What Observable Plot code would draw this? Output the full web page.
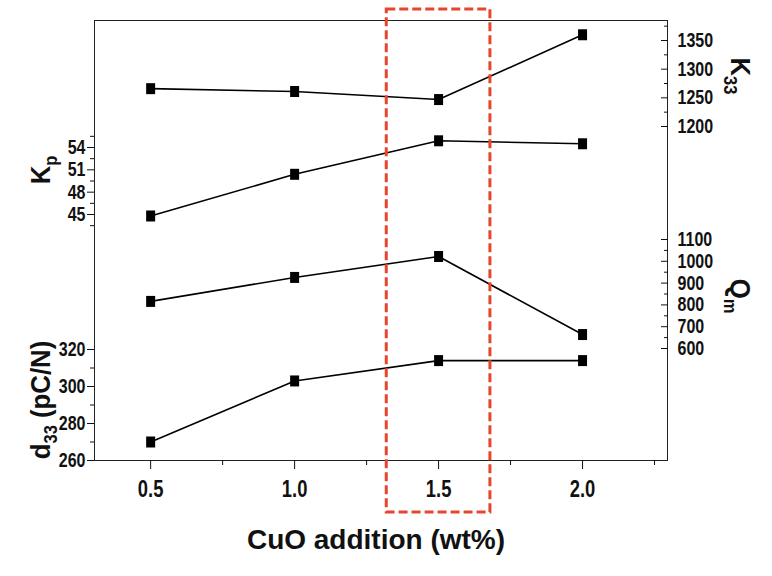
<!DOCTYPE html>
<html><head><meta charset="utf-8">
<script src="https://cdn.jsdelivr.net/npm/d3@7"></script>
<script src="https://cdn.jsdelivr.net/npm/@observablehq/plot@0.6"></script>
<style>body{margin:0;background:#fff} #chart svg{display:block}</style>
</head><body><div id="chart"></div>
<script>
// ---- data ----
const cuo = [0.5, 1.0, 1.5, 2.0];
const k33 = [1266, 1261, 1247, 1360];
const kp  = [44.8, 50.4, 54.9, 54.5];
const qm  = [816, 926, 1022, 664];
const d33 = [270, 303, 314, 314];

const xTicks = [0.5, 1.0, 1.5, 2.0];
const xMinor = [0.75, 1.25, 1.75, 2.25];
const kpTicks = [45, 48, 51, 54];
const kpMinor = [43.5, 46.5, 49.5, 52.5, 55.5];
const k33Ticks = [1200, 1250, 1300, 1350];
const k33Minor = [1225, 1275, 1325, 1375];
const qmTicks = [600, 700, 800, 900, 1000, 1100];
const qmMinor = [650, 750, 850, 950, 1050];
const d33Ticks = [260, 280, 300, 320];
const d33Minor = [270, 290, 310];
const highlightX = [1.32, 1.68];
const xTitle = "CuO addition (wt%)";

// ---- layout: each series gets a vertical band of the shared y scale (units above the frame bottom) ----
const bands = {
  k33: {dom: [1200, 1350], pos: [334, 420]},
  kp:  {dom: [45, 54],     pos: [246, 313]},
  qm:  {dom: [600, 1100],  pos: [112, 221]},
  d33: {dom: [260, 320],   pos: [0, 111]}
};
const sc = {};
for (const k in bands) sc[k] = d3.scaleLinear(bands[k].dom, bands[k].pos);
const highlightY = [-52, 451];

const seriesVals = {k33, kp, qm, d33};
const rows = [];
for (const k in seriesVals) seriesVals[k].forEach((v, i) => rows.push({series: k, x: cuo[i], v, y: sc[k](v)}));

const FONT = "'Liberation Sans',Arial,Helvetica,sans-serif";
const tickFont = {fontFamily: FONT, fontWeight: "bold", fontSize: 20};
const fmtInt = d3.format("d");

function leftAxis(k, major, minor) {
  return [
    Plot.axisY(major.map(sc[k]), {anchor: "left", tickSize: 7, tickPadding: 2, label: null, tickFormat: d => fmtInt(sc[k].invert(d)), ...tickFont}),
    Plot.axisY(minor.map(sc[k]), {anchor: "left", tickSize: 4, label: null, tickFormat: () => ""})
  ];
}
function rightAxis(k, major, minor) {
  return [
    Plot.axisY(major.map(sc[k]), {anchor: "right", tickSize: -7, tickPadding: 17, label: null, tickFormat: d => fmtInt(sc[k].invert(d)), ...tickFont}),
    Plot.axisY(minor.map(sc[k]), {anchor: "right", tickSize: -4, tickPadding: 14, label: null, tickFormat: () => ""})
  ];
}

const squareSym = {draw(ctx) { ctx.rect(-4.5, -5.5, 9, 11); }};

const chart = Plot.plot({
  width: 772, height: 576,
  marginTop: 20, marginBottom: 116, marginLeft: 94, marginRight: 105,
  style: {background: "#fff", color: "#111", fontFamily: FONT},
  x: {domain: [0.305, 2.295]},
  y: {domain: [0, 440], label: null},
  marks: [
    Plot.frame({stroke: "#222"}),
    Plot.axisX(xTicks, {tickSize: 9, tickPadding: 11, label: null, tickFormat: d3.format(".1f"), ...tickFont, fontSize: 23}),
    Plot.axisX(xMinor, {tickSize: 5, label: null, tickFormat: () => ""}),
    ...leftAxis("kp", kpTicks, kpMinor),
    ...leftAxis("d33", d33Ticks, d33Minor),
    ...rightAxis("k33", k33Ticks, k33Minor),
    ...rightAxis("qm", qmTicks, qmMinor),
    Plot.line(rows, {x: "x", y: "y", z: "series", stroke: "#000", strokeWidth: 1.6}),
    Plot.dot(rows, {x: "x", y: "y", symbol: squareSym, fill: "#000", stroke: null}),
    Plot.rect([{x1: highlightX[0], x2: highlightX[1], y1: highlightY[0], y2: highlightY[1]}],
      {x1: "x1", x2: "x2", y1: "y1", y2: "y2", fill: "none", stroke: "#e8452c", strokeWidth: 3, strokeDasharray: "9,4"}),
    Plot.text([xTitle], {frameAnchor: "bottom", dy: 88, dx: -5, fontSize: 28, fontWeight: "bold", fontFamily: FONT, fill: "#111", ariaLabel: "x-title"})
  ]
});
document.getElementById("chart").appendChild(chart);

const svg = d3.select(chart);
// condense glyphs horizontally (the original uses a narrow typeface)
function condense(sel, k) {
  sel.each(function() {
    const t = this.getAttribute("transform");
    if (t) this.setAttribute("transform", t + ` scale(${k},1)`);
  });
}
condense(svg.selectAll("g[aria-label='y-axis tick label'] text"), 0.8);
condense(svg.selectAll("g[aria-label='x-axis tick label'] text"), 0.8);
condense(svg.selectAll("g[aria-label='x-title'] text"), 0.85);

// axis titles with subscripts
function axisTitle(x, y, rot, main, sub, rest) {
  const t = svg.append("text")
    .attr("transform", `translate(${x},${y}) rotate(${rot}) scale(0.92,1)`)
    .attr("text-anchor", "middle")
    .attr("font-family", FONT)
    .attr("font-weight", "bold")
    .attr("font-size", 28)
    .attr("fill", "#111");
  t.append("tspan").text(main);
  t.append("tspan").attr("dy", 7).attr("font-size", 18).text(sub);
  if (rest) t.append("tspan").attr("dy", -7).text(rest);
}
axisTitle(50, 170, -90, "K", "p", "");
axisTitle(50, 400, -90, "d", "33", " (pC/N)");
axisTitle(731, 76, 90, "K", "33", "");
axisTitle(731, 296, 90, "Q", "m", "");
</script>
</body></html>
